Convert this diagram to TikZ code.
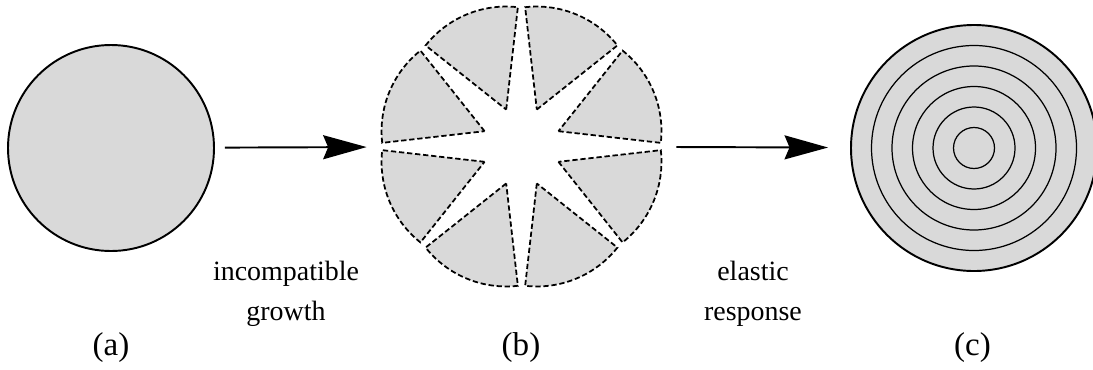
\documentclass[tikz,border=0pt]{standalone}
\usepackage{fontspec}
\setmainfont{Liberation Serif}
\usepackage{xcolor}
\definecolor{grgray}{RGB}{217,217,217}
\usetikzlibrary{arrows.meta}

\tikzset{
  grain/.style={circle, draw=black, fill=grgray, line width=1.1pt, inner sep=0pt},
  shard/.style={draw=black, fill=grgray, line width=1pt, dash pattern=on 3pt off 1.6pt},
  ring/.style={draw=black, line width=0.7pt},
  growarrow/.style={line width=1.1pt, -{Stealth[length=0.87cm, width=0.48cm, inset=0.1cm]}},
  steplabel/.style={font=\fontsize{15.9}{22.8}\selectfont, align=center},
  panellabel/.style={font=\fontsize{18.8}{22}\selectfont}
}

\begin{document}
\begin{tikzpicture}
  \useasboundingbox (0,0) rectangle (21.86,7.38);

  % --- (a): stress-free grain ---
  \node[grain, minimum size=4.12cm] (grainA) at (2.22,4.42) {};
  \node[panellabel] (labA) at (2.22,0.43) {(a)};

  % --- (b): cut into sectors, each grown on its own ---
  \node[circle, minimum size=5.62cm, inner sep=0pt] (cutB) at (10.43,4.45) {};
  \begin{scope}[shift={(10.43,4.45)}]
    \foreach \a in {22.5,67.5,...,337.5}
      \draw[shard] (\a:0.8) -- ++({\a-29}:2.06)
        arc[start angle=\a-29, end angle=\a+29, radius=2.06] -- cycle;
  \end{scope}
  \node[panellabel] (labB) at (10.42,0.43) {(b)};

  % --- (c): glued back, residual stress rings ---
  \node[grain, minimum size=4.92cm] (grainC) at (19.48,4.42) {};
  \foreach \r in {1,...,5}
    \draw[ring] (grainC) circle ({\r*0.41});
  \node[panellabel] (labC) at (19.45,0.43) {(c)};

  % Arrows
  \draw[growarrow, shorten <=0.2cm, shorten >=0.28cm] (grainA) -- (cutB);
  \draw[growarrow, shorten <=0.28cm, shorten >=0.44cm] (cutB) -- (grainC);
  \node[steplabel] (growth) at (5.72,1.51) {incompatible\\growth};
  \node[steplabel] (elastic) at (15.06,1.51) {elastic\\response};
\end{tikzpicture}
\end{document}
